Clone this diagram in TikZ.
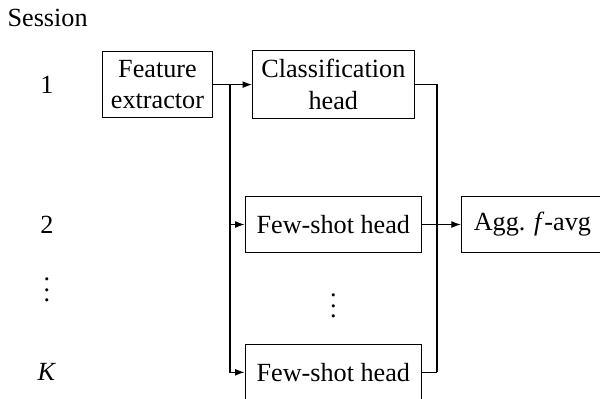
\documentclass[tikz,border=0pt]{standalone}
\usepackage{fontspec}
\setmainfont{Liberation Serif}
\usetikzlibrary{calc}
\usetikzlibrary{positioning}
\usetikzlibrary{arrows.meta}

\begin{document}
\begin{tikzpicture}[box/.style={rectangle, draw=black, align=center, inner sep=3.33pt},
    headbox/.style={box, minimum width=67.4pt, minimum height=21.6pt},
    >={Latex[length=3.6pt, width=2.6pt]}]
            \useasboundingbox (0,0) rectangle (8.05,-5.34);
            \node[anchor=base west, inner sep=0pt] (session) at (0.095,-0.362) {Session};
            \node[box] (feat) at (2.113,-1.135) {Feature\\extractor};
            \node[box, right=0.52cm of feat] (cls) {Classification\\head};
            \node[headbox, below=1.03cm of cls] (few2) {Few-shot head};
            \node[headbox, below=1.21cm of few2] (fewK) {Few-shot head};
            \node[box, minimum height=21.6pt, minimum width=54.2pt, right=0.52cm of few2] (agg) {Agg. \textit{f}-avg};
            \node (dotsmid) at ($(few2)!0.5!(fewK)$) {$\vdots$};
            % session numbers
            \node (s1) at (0.63,0 |- feat) {1};
            \node (s2) at (0.63,0 |- few2) {2};
            \node (sdots) at (0.63,-3.785) {$\vdots$};
            \node (sK) at (0.63,0 |- fewK) {\textit{K}};
            % connectors
            \coordinate (split) at (3.086,0 |- feat);
            \coordinate (join) at (5.863,0 |- fewK);
            \draw[->] (feat) -- (cls);
            \draw[->] (split) |- (few2);
            \draw[->] (split) |- (fewK);
            \draw (cls.east) -| (join);
            \draw (fewK.east) -- (join);
            \draw[->] (few2) -- (agg);
        \end{tikzpicture}
\end{document}
